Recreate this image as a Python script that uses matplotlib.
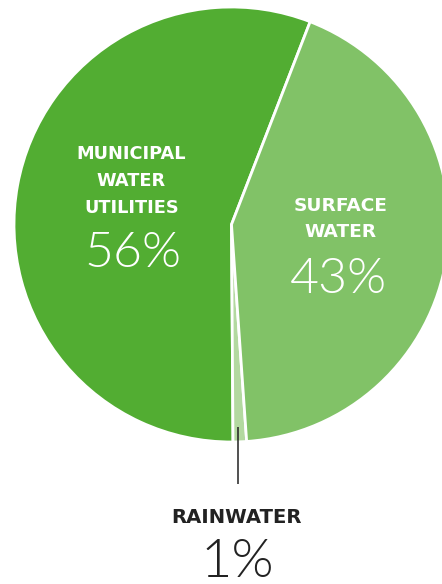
import matplotlib
matplotlib.use("Agg")
import matplotlib.pyplot as plt

# Water source shares
sources = ["MUNICIPAL\nWATER\nUTILITIES", "RAINWATER", "SURFACE\nWATER"]
shares = [56, 1, 43]
pct_labels = ["56%", "1%", "43%"]
colors = ["#52ad32", "#b3d9a0", "#81c267"]

W, H = 442, 584
fig = plt.figure(figsize=(W / 100, H / 100), dpi=100)
ax = fig.add_axes([0, 0, 1, 1])
ax.set_xlim(0, W)
ax.set_ylim(0, H)
ax.set_aspect("equal")
ax.axis("off")


def Y(y):
    # pixel row (from top) to axes y
    return H - y


cx, cy, r = 231.5, 224.5, 217.5
ax.pie(shares, colors=colors, startangle=68.8, counterclock=True,
       center=(cx, Y(cy)), radius=r,
       wedgeprops=dict(edgecolor="white", linewidth=2.0))
ax.set_xlim(0, W)
ax.set_ylim(0, H)

bold = dict(family="DejaVu Sans", fontweight="bold", ha="center", va="baseline")
thin = dict(family=["Lato", "DejaVu Sans"], fontweight=300, ha="center", va="baseline")

# Municipal water utilities
for line, yb in zip(sources[0].split("\n"), [159.3, 186.0, 212.7]):
    ax.text(131.5, Y(yb), line, color="white", fontsize=12.8, **bold)
ax.text(133.3, Y(266.7), pct_labels[0], color="white", fontsize=36, **thin)

# Surface water
for line, yb in zip(sources[2].split("\n"), [210.7, 236.7]):
    ax.text(340.5, Y(yb), line, color="white", fontsize=13.3, **bold)
ax.text(338, Y(293), pct_labels[2], color="white", fontsize=36, **thin)

# Rainwater with leader line
ax.plot([238.3, 238.3], [Y(427), Y(484)], color="#222222", linewidth=1.1,
        solid_capstyle="butt")
ax.text(236.7, Y(522.7), sources[1], color="#222222", fontsize=14.1, **bold)
ax.text(237.5, Y(577), pct_labels[1], color="#222222", fontsize=39, **thin)

fig.savefig("out.png", dpi=100, facecolor="white")
